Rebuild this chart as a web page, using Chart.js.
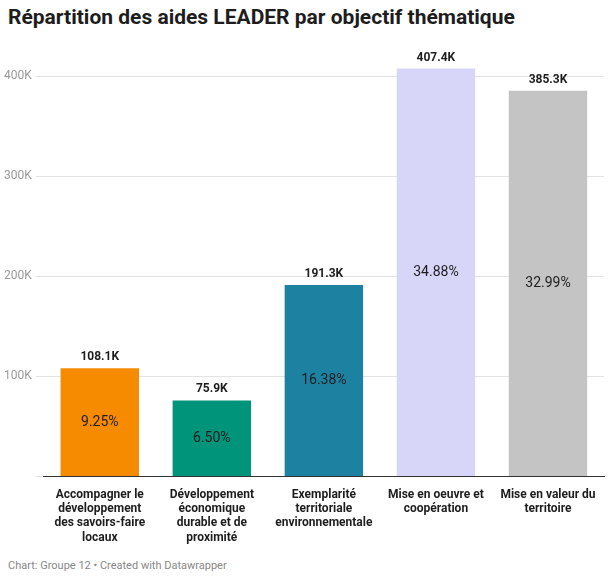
<!DOCTYPE html>
<html><head><meta charset="utf-8">
<script src="https://cdn.jsdelivr.net/npm/chart.js@4"></script>
<style>
body{margin:0;background:#fff;font-family:Roboto,sans-serif;}
h1{font-size:21px;font-weight:700;margin:0;position:absolute;left:8px;top:5px;color:#1d1d1d;}
#wrap{position:absolute;left:0;top:36px;width:606px;height:512px;}
.foot{position:absolute;left:8px;top:559px;font-size:11px;color:#888;}
</style></head><body>
<h1>Répartition des aides LEADER par objectif thématique</h1>
<div id="wrap"><canvas id="c"></canvas></div>
<div class="foot">Chart: Groupe 12 • Created with Datawrapper</div>
<script>
const categories = [
  ["Accompagner le","développement","des savoirs-faire","locaux"],
  ["Développement","économique","durable et de","proximité"],
  ["Exemplarité","territoriale","environnementale"],
  ["Mise en oeuvre et","coopération"],
  ["Mise en valeur du","territoire"]
];
const values = [108.1, 75.9, 191.3, 407.4, 385.3];
const topLabels = ["108.1K","75.9K","191.3K","407.4K","385.3K"];
const shares = ["9.25%","6.50%","16.38%","34.88%","32.99%"];
const colors = ["#f68b00","#00947a","#1d81a2","#d7d5f8","#c4c4c4"];
const yTicks = [0,100,200,300,400];

const labelPlugin = {
  id:"labels",
  afterDatasetsDraw(chart){
    const ctx = chart.ctx, meta = chart.getDatasetMeta(0);
    meta.data.forEach((bar,i)=>{
      ctx.save();
      ctx.textAlign="center";
      ctx.fillStyle="#1d1d1d";
      ctx.font="700 12px Roboto";
      ctx.fillText(topLabels[i], bar.x, bar.y-8);
      ctx.font="400 14px Roboto";
      ctx.textBaseline="middle";
      ctx.fillText(shares[i], bar.x, (bar.y+bar.base)/2);
      ctx.restore();
    });
  }
};

new Chart(document.getElementById("c"),{
  type:"bar",
  data:{labels:categories,datasets:[{data:values,backgroundColor:colors,barPercentage:0.7,categoryPercentage:1}]},
  options:{
    responsive:true,maintainAspectRatio:false,animation:false,
    layout:{padding:{top:20,right:2,left:0}},
    plugins:{legend:{display:false},tooltip:{enabled:false}},
    scales:{
      x:{grid:{display:false},border:{color:"#333"},
         ticks:{color:"#1d1d1d",font:{family:"Roboto",size:12,weight:"700"},maxRotation:0,autoSkip:false}},
      y:{min:0,max:420,afterBuildTicks(ax){ax.ticks=yTicks.map(v=>({value:v}));},
         border:{display:false},grid:{color:"#e3e3e3"},
         ticks:{color:"#999",font:{family:"Roboto",size:12},padding:4,
           callback:v=>v===0?"":v+"K"}}
    }
  },
  plugins:[labelPlugin]
});
</script>
</body></html>
